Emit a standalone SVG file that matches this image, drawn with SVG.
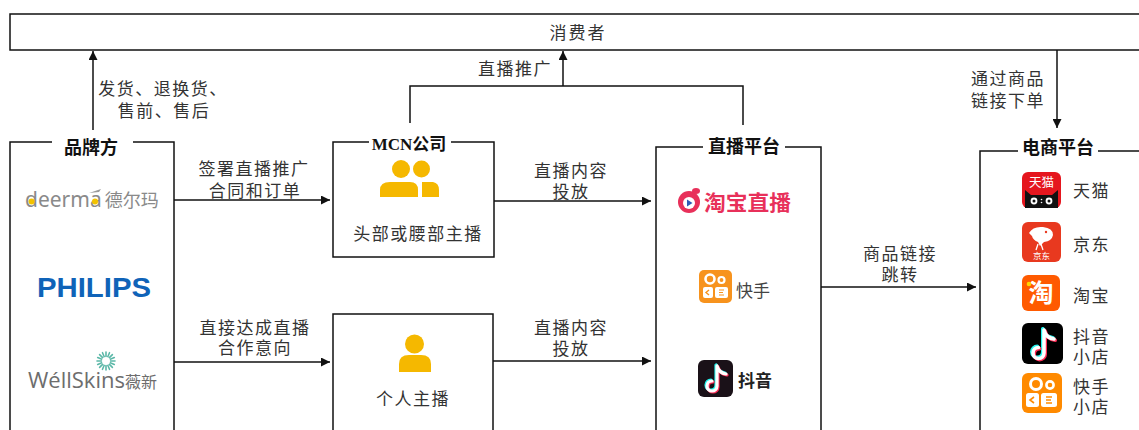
<svg xmlns="http://www.w3.org/2000/svg" width="1139" height="430" viewBox="0 0 1139 430">
<defs>
<style>
.box{fill:#fff;stroke:#111;stroke-width:1.5}
.tbg{fill:#fff;stroke:none}
.ln{fill:none;stroke:#111;stroke-width:1.5}
.lbl{font-family:"Liberation Serif","Noto Sans CJK SC",sans-serif;font-size:17px;fill:#333;letter-spacing:1.5px;text-anchor:middle}
.ttl{font-family:"Liberation Serif","Noto Sans CJK SC",sans-serif;font-size:18px;font-weight:bold;fill:#111;text-anchor:middle}
.ec{font-family:"Liberation Serif","Noto Sans CJK SC",sans-serif;font-size:17px;fill:#333;letter-spacing:1.5px}
.yel{fill:#F5B800}
</style>
<marker id="ah" viewBox="0 0 10 10" refX="10" refY="5" markerWidth="10" markerHeight="9" markerUnits="userSpaceOnUse" orient="auto">
<path d="M0,0 L10,5 L0,10 z" fill="#111"/>
</marker>
</defs>
<rect width="1139" height="430" fill="#fff"/>

<g id="consumer">
<rect class="box" x="10" y="14" width="1140" height="36"/>
<text class="lbl" x="578" y="38.5" style="letter-spacing:2px">消费者</text>
</g>

<g id="connectors">
<line class="ln" x1="93" y1="130" x2="93" y2="51" marker-end="url(#ah)"/>
<text class="lbl" x="163" y="94.5">发货、退换货、</text>
<text class="lbl" x="164" y="116.5">售前、售后</text>

<polyline class="ln" points="410,123 410,86 743,86 743,125"/>
<line class="ln" x1="563" y1="86" x2="563" y2="51" marker-end="url(#ah)"/>
<text class="lbl" x="515" y="74.5">直播推广</text>

<line class="ln" x1="174" y1="200" x2="330" y2="200" marker-end="url(#ah)"/>
<text class="lbl" x="254" y="174.5">签署直播推广</text>
<text class="lbl" x="255" y="196.5">合同和订单</text>

<line class="ln" x1="174" y1="362" x2="330" y2="362" marker-end="url(#ah)"/>
<text class="lbl" x="255" y="333.5">直接达成直播</text>
<text class="lbl" x="255" y="353.5">合作意向</text>

<line class="ln" x1="494" y1="201" x2="651" y2="201" marker-end="url(#ah)"/>
<text class="lbl" x="571" y="176.5">直播内容</text>
<text class="lbl" x="571" y="197.5">投放</text>

<line class="ln" x1="493" y1="361" x2="651" y2="361" marker-end="url(#ah)"/>
<text class="lbl" x="571" y="333.5">直播内容</text>
<text class="lbl" x="571" y="354.5">投放</text>

<line class="ln" x1="821" y1="287" x2="976" y2="287" marker-end="url(#ah)"/>
<text class="lbl" x="900" y="259.5">商品链接</text>
<text class="lbl" x="900" y="280.5">跳转</text>

<line class="ln" x1="1057" y1="50" x2="1057" y2="128" marker-end="url(#ah)"/>
<text class="lbl" x="1008" y="84.5">通过商品</text>
<text class="lbl" x="1008" y="106.5">链接下单</text>
</g>

<g id="brand">
<rect class="box" x="10" y="142" width="164" height="300"/>
<rect class="tbg" x="52" y="130" width="81" height="30"/>
<text class="ttl" x="91" y="154">品牌方</text>
<g id="logo-deerma">
<path d="M89,193 L101,189 L99,192 Z" fill="#9a9a9a"/>
<text x="25" y="207" font-family="'Noto Sans',sans-serif" font-size="21" fill="#8a8a8a">deerma<tspan dx="3" font-family="'Noto Sans CJK SC',sans-serif" font-size="18">德尔玛</tspan></text>
<circle cx="31.5" cy="201.5" r="3" fill="#F2C200"/>
<circle cx="95" cy="201.5" r="3" fill="#F2C200"/>
</g>
<text id="logo-philips" x="37" y="297" font-family="'Liberation Sans',sans-serif" font-weight="bold" font-size="28" fill="#0F63B8" textLength="114" lengthAdjust="spacingAndGlyphs">PHILIPS</text>
<g id="logo-wellskins">
<g stroke="#5CB8A8" stroke-width="1.6" stroke-linecap="round">
<line x1="106" y1="352" x2="106" y2="370"/>
<line x1="97" y1="361" x2="115" y2="361"/>
<line x1="99.6" y1="354.6" x2="112.4" y2="367.4"/>
<line x1="99.6" y1="367.4" x2="112.4" y2="354.6"/>
<line x1="102.5" y1="352.7" x2="109.5" y2="369.3"/>
<line x1="97.7" y1="357.5" x2="114.3" y2="364.5"/>
<line x1="97.7" y1="364.5" x2="114.3" y2="357.5"/>
<line x1="102.5" y1="369.3" x2="109.5" y2="352.7"/>
</g>
<circle cx="106" cy="361" r="4" fill="#fff"/>
<text x="28" y="388" font-family="'Open Sans',sans-serif" font-size="22" fill="#6d6d6d">WéllSkins<tspan font-family="'Noto Sans CJK SC',sans-serif" font-size="16">薇新</tspan></text>
</g>
</g>

<g id="mcn">
<rect class="box" x="333" y="142" width="161" height="115"/>
<rect class="tbg" x="369" y="124" width="82" height="32"/>
<text class="ttl" x="409" y="150" style="font-size:17px">MCN公司</text>
<g id="icon-group">
<circle class="yel" cx="421.5" cy="169" r="8.5"/>
<path class="yel" d="M422,182 L433,182 Q439,183 439,190 L439,197 L422,197 Z"/>
<circle cx="401" cy="169" r="10.5" fill="#fff"/>
<circle class="yel" cx="401" cy="169" r="9"/>
<path d="M378,197 L378,190 Q378,180 390,180 L412,180 Q420,180 420,190 L420,197 Z" fill="#fff"/>
<path class="yel" d="M380,197 L380,190 Q380,182 390,182 L410,182 Q418,182 418,190 L418,197 Z"/>
</g>
<text class="lbl" x="418" y="239.5">头部或腰部主播</text>
</g>

<g id="individual">
<rect class="box" x="333" y="314" width="160" height="130"/>
<circle class="yel" cx="414.5" cy="344" r="9.5"/>
<path class="yel" d="M399,372 L399,364 Q399,355 409,355 L421,355 Q431,355 431,364 L431,372 Z"/>
<text class="lbl" x="413" y="404.5">个人主播</text>
</g>

<g id="platform">
<rect class="box" x="656" y="147" width="165" height="300"/>
<rect class="tbg" x="703" y="128" width="82" height="34"/>
<text class="ttl" x="744" y="152.5">直播平台</text>
<g id="logo-taobaolive">
<circle cx="689" cy="202" r="11" fill="#E8305A"/>
<ellipse cx="696" cy="191" rx="4" ry="3" fill="#E8305A"/>
<circle cx="689" cy="203" r="6" fill="#fff"/>
<path d="M687,199.5 L692.5,203 L687,206.5 Z" fill="#2D5BB8"/>
<text x="704" y="210" font-family="'Noto Sans CJK SC',sans-serif" font-weight="bold" font-size="21" fill="#E8305A" textLength="87" lengthAdjust="spacingAndGlyphs">淘宝直播</text>
</g>
<g id="logo-kuaishou">
<rect x="699" y="270" width="33" height="33" rx="5" fill="#F7931E"/>
<circle cx="710" cy="279" r="4.5" fill="none" stroke="#fff" stroke-width="2.6"/>
<circle cx="721.5" cy="280" r="3" fill="none" stroke="#fff" stroke-width="2.2"/>
<rect x="703" y="287" width="10" height="11" rx="2" fill="#fff"/>
<rect x="715" y="287" width="13" height="11" rx="2" fill="#fff"/>
<path d="M709,290 L706,292.5 L709,295" fill="none" stroke="#F7931E" stroke-width="1.4"/>
<path d="M719,290 L724,290 M719,292.5 L723,292.5 M719,295 L724,295" stroke="#F7931E" stroke-width="1.2"/>
<text x="736" y="297" font-family="'Noto Sans CJK SC',sans-serif" font-size="17" fill="#444">快手</text>
</g>
<g id="logo-douyin">
<rect x="698" y="360" width="35" height="37" rx="6" fill="#1a1118"/>
<g fill="none" stroke-width="3.2" stroke-linecap="round">
<path d="M717,366 L717,386 A5,5 0 1 1 712,381 M717,366 Q719,373 726,374" stroke="#25F4EE" transform="translate(-1,-1)"/>
<path d="M717,366 L717,386 A5,5 0 1 1 712,381 M717,366 Q719,373 726,374" stroke="#FE2C55" transform="translate(1,1)"/>
<path d="M717,366 L717,386 A5,5 0 1 1 712,381 M717,366 Q719,373 726,374" stroke="#fff"/>
</g>
<text x="738" y="387" font-family="'Noto Sans CJK SC',sans-serif" font-weight="bold" font-size="17" fill="#222">抖音</text>
</g>
</g>

<g id="ecommerce">
<rect class="box" x="980" y="151" width="170" height="300"/>
<rect class="tbg" x="1018" y="129" width="80" height="38"/>
<text class="ttl" x="1058" y="153.5">电商平台</text>
<g id="logo-tmall">
<rect x="1022" y="172" width="39" height="36" rx="6" fill="#E5161E"/>
<text x="1041.5" y="187" font-family="'Noto Sans CJK SC',sans-serif" font-size="12.5" fill="#fff" text-anchor="middle">天猫</text>
<path d="M1025,208 L1025,190 L1031,195 L1052,195 L1058,190 L1058,208 Z" fill="#111"/>
<circle cx="1034" cy="201" r="3.4" fill="#fff"/>
<circle cx="1049" cy="201" r="3.4" fill="#fff"/>
<circle cx="1034" cy="201" r="1.5" fill="#111"/>
<circle cx="1049" cy="201" r="1.5" fill="#111"/>
<circle cx="1041.5" cy="199.5" r="0.8" fill="#fff"/>
<circle cx="1041.5" cy="202.5" r="0.8" fill="#fff"/>
</g>
<text class="ec" x="1073" y="196.5">天猫</text>
<g id="logo-jd">
<rect x="1022" y="222" width="39" height="40" rx="6" fill="#E8391F"/>
<path d="M1029,233 Q1033,226 1043,227 Q1053,228 1053,235 Q1052,241 1044,242 L1040,246 L1038,242 Q1033,240 1032,236 Z" fill="#fff"/>
<circle cx="1046" cy="232" r="1.2" fill="#E8391F"/>
<path d="M1038,244 L1036,250 M1041,244 L1043,250" stroke="#fff" stroke-width="1.3"/>
<text x="1041.5" y="259" font-family="'Noto Sans CJK SC',sans-serif" font-size="8.5" fill="#fff" text-anchor="middle">京东</text>
</g>
<text class="ec" x="1073" y="250.5">京东</text>
<g id="logo-taobao">
<rect x="1022" y="275" width="38" height="36" rx="6" fill="#FF5A00"/>
<text x="1041" y="302" font-family="'Noto Sans CJK SC',sans-serif" font-weight="bold" font-size="25" fill="#fff" text-anchor="middle">淘</text>
<circle cx="1029" cy="284" r="2.3" fill="#FFD600"/>
</g>
<text class="ec" x="1073" y="301.5">淘宝</text>
<g id="logo-douyin-shop">
<rect x="1022" y="323" width="41" height="41" rx="6" fill="#000"/>
<g fill="none" stroke-width="3.6" stroke-linecap="round">
<path d="M1044,330 L1044,353 A5.5,5.5 0 1 1 1038.5,347.5 M1044,330 Q1046,338 1054,339" stroke="#25F4EE" transform="translate(-1.2,-1.2)"/>
<path d="M1044,330 L1044,353 A5.5,5.5 0 1 1 1038.5,347.5 M1044,330 Q1046,338 1054,339" stroke="#FE2C55" transform="translate(1.2,1.2)"/>
<path d="M1044,330 L1044,353 A5.5,5.5 0 1 1 1038.5,347.5 M1044,330 Q1046,338 1054,339" stroke="#fff"/>
</g>
</g>
<text class="ec" x="1073" y="342.5">抖音</text>
<text class="ec" x="1073" y="362.5">小店</text>
<g id="logo-kuaishou-shop">
<rect x="1022" y="373" width="40" height="40" rx="6" fill="#FF8A00"/>
<circle cx="1036" cy="384" r="5.5" fill="none" stroke="#fff" stroke-width="3"/>
<circle cx="1050" cy="385" r="3.6" fill="none" stroke="#fff" stroke-width="2.6"/>
<rect x="1026" y="393" width="13" height="14" rx="2.5" fill="#fff"/>
<rect x="1041" y="393" width="16" height="14" rx="2.5" fill="#fff"/>
<path d="M1034,397 L1030,400 L1034,403" fill="none" stroke="#FF8A00" stroke-width="1.6"/>
<path d="M1046,397 L1052,397 M1046,400 L1051,400 M1046,403 L1052,403" stroke="#FF8A00" stroke-width="1.4"/>
</g>
<text class="ec" x="1073" y="392.5">快手</text>
<text class="ec" x="1073" y="412.5">小店</text>
</g>
</svg>
